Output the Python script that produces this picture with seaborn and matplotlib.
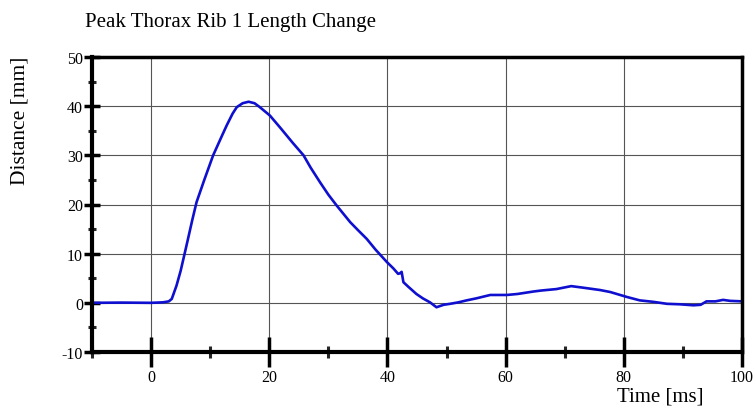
import numpy as np
import pandas as pd
import matplotlib
matplotlib.use("Agg")
import matplotlib.pyplot as plt
import seaborn as sns
from matplotlib.ticker import MultipleLocator

# Dados
tempo = [-10, -5, 0, 2, 3, 3.5, 4.3, 5, 6, 7, 7.7, 9, 10.5, 12, 12.8, 13.8,
         14.5, 15.5, 16.5, 17.5, 18.4, 20.1, 21.8, 24, 25.8, 27, 28.6, 30,
         31.4, 33.7, 35, 36.5, 38, 39.9, 41, 41.8, 42.1, 42.4, 42.7, 43.5,
         44.9, 46, 47.2, 48.3, 49.5, 50.6, 52, 53.4, 55, 57.4, 60.2, 62,
         64.7, 66, 68.6, 71.1, 73, 74.8, 76, 77.7, 80.5, 82.7, 85, 87.3,
         89.5, 91.8, 93, 94, 95.5, 96.8, 98, 100]
distancia = [0, 0.05, 0, 0.1, 0.3, 0.8, 3.5, 6.5, 11.7, 17.0, 20.5, 25, 30,
             34, 36.1, 38.5, 39.8, 40.6, 40.9, 40.6, 39.8, 38.1, 35.7, 32.5,
             30.0, 27.5, 24.5, 22.0, 19.8, 16.4, 14.8, 13.0, 10.8, 8.3, 7.0,
             5.9, 6.0, 6.3, 4.2, 3.3, 1.8, 0.9, 0.1, -0.9, -0.4, -0.2, 0.1,
             0.5, 0.9, 1.6, 1.6, 1.8, 2.3, 2.5, 2.8, 3.4, 3.1, 2.8, 2.6, 2.2,
             1.2, 0.5, 0.2, -0.2, -0.3, -0.5, -0.4, 0.3, 0.3, 0.6, 0.4, 0.3]
xticks = [0, 20, 40, 60, 80, 100]
yticks = [-10, 0, 10, 20, 30, 40, 50]

df = pd.DataFrame({'tempo': tempo, 'distancia': distancia})

sns.set_style('white')
plt.rcParams['font.family'] = ['Liberation Serif', 'DejaVu Serif']
plt.rcParams['axes.unicode_minus'] = False
plt.rcParams['text.color'] = 'black'

fig = plt.figure(figsize=(7.55, 4.10), dpi=100)
ax = fig.add_axes([92 / 755, 57 / 410, 650 / 755, 295 / 410])

sns.lineplot(data=df, x='tempo', y='distancia', color='#0f0fd0', linewidth=1.9, ax=ax)

ax.set_xlim(-10, 100)
ax.set_ylim(-10, 50)
ax.set_xticks(xticks)
ax.set_yticks(yticks)
ax.xaxis.set_minor_locator(MultipleLocator(10))
ax.yaxis.set_minor_locator(MultipleLocator(5))

# Grade
ax.grid(True, which='major', color='#555555', linewidth=0.8)
ax.set_axisbelow(True)

for lado in ['left', 'bottom', 'top', 'right']:
    ax.spines[lado].set_visible(True)
    ax.spines[lado].set_color('black')
ax.spines['left'].set_linewidth(3.0)
ax.spines['bottom'].set_linewidth(3.0)
ax.spines['top'].set_linewidth(2.5)
ax.spines['right'].set_linewidth(2.5)

ax.tick_params(axis='x', which='major', direction='inout', length=21, width=2.5,
               labelsize=11.5, pad=2, colors='black')
ax.tick_params(axis='x', which='minor', direction='inout', length=9, width=2.2)
ax.tick_params(axis='y', which='major', direction='inout', length=11, width=2.5,
               labelsize=11.5, pad=1, colors='black')
ax.tick_params(axis='y', which='minor', direction='inout', length=6, width=2.2)
ax.tick_params(bottom=True, left=True, which='both')

ax.set_xlabel('')
ax.set_ylabel('')

# Textos
fig.text(85 / 755, 1 - 22 / 410, 'Peak Thorax Rib 1 Length Change', fontsize=15,
         ha='left', va='center', color='black')
fig.text(20 / 755, 1 - 121 / 410, 'Distance [mm]', fontsize=15.5, rotation=90,
         ha='center', va='center', color='black')
fig.text(660 / 755, 1 - 397 / 410, 'Time [ms]', fontsize=15, ha='center', va='center',
         color='black')

fig.savefig('out.png', dpi=100)
